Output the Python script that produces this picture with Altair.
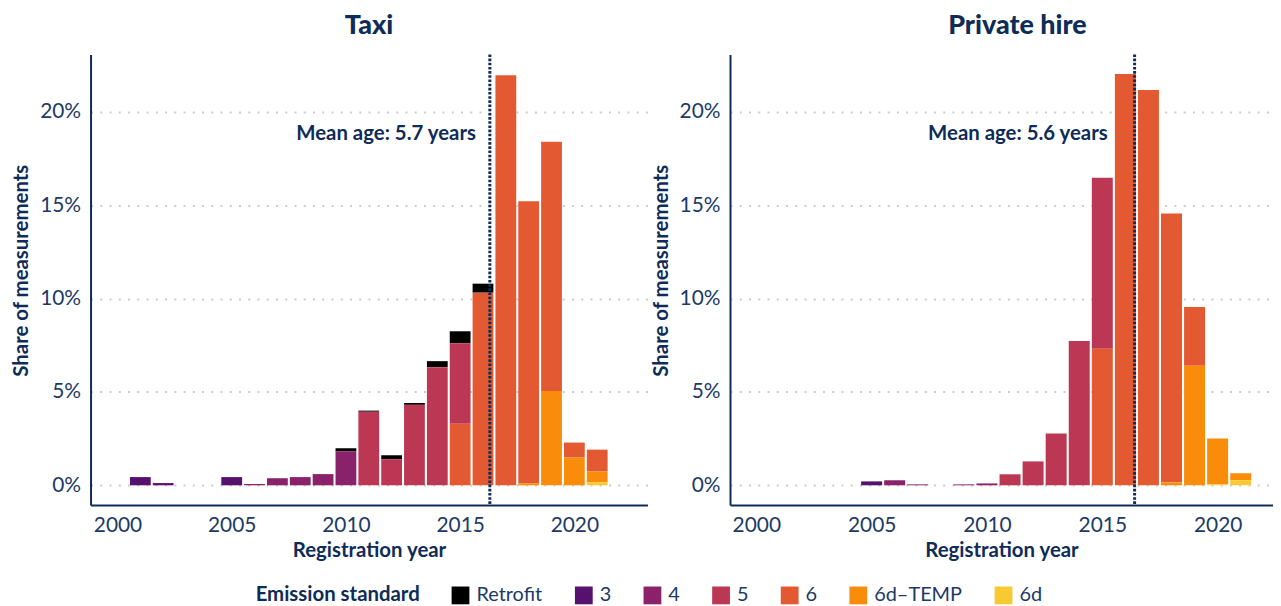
import altair as alt
import pandas as pd

# ---------------- data ----------------
years = list(range(2001, 2022))  # 2001 ... 2021
standards = ["Retrofit", "3", "4", "5", "6", "6d–TEMP", "6d"]
palette = ["#000000", "#56106E", "#89226A", "#BB3754", "#E35932", "#F98C0A", "#F9C932"]
stack_rank = [6, 5, 4, 3, 2, 1, 0]  # 6d at bottom, Retrofit on top

# Taxi (share of measurements, %)
taxi_retrofit = [0, 0, 0, 0, 0, 0, 0, 0, 0, 0.16, 0.06, 0.21, 0.10, 0.32, 0.64, 0.48, 0, 0, 0, 0, 0]
taxi_e3 = [0.44, 0.12, 0, 0, 0.44, 0, 0, 0, 0, 0, 0, 0, 0, 0, 0, 0, 0, 0, 0, 0, 0]
taxi_e4 = [0, 0, 0, 0, 0, 0.07, 0.38, 0.44, 0.60, 1.82, 0, 0, 0, 0, 0, 0, 0, 0, 0, 0, 0]
taxi_e5 = [0, 0, 0, 0, 0, 0, 0, 0, 0, 0, 3.94, 1.40, 4.31, 6.33, 4.31, 0, 0, 0, 0, 0, 0]
taxi_e6 = [0, 0, 0, 0, 0, 0, 0, 0, 0, 0, 0, 0, 0, 0, 3.30, 10.32, 21.97, 15.10, 13.35, 0.80, 1.17]
taxi_e6dt = [0, 0, 0, 0, 0, 0, 0, 0, 0, 0, 0, 0, 0, 0, 0, 0, 0, 0.11, 5.05, 1.49, 0.58]
taxi_e6d = [0, 0, 0, 0, 0, 0, 0, 0, 0, 0, 0, 0, 0, 0, 0, 0, 0, 0, 0, 0, 0.16]

# Private hire (share of measurements, %)
ph_retrofit = [0] * 21
ph_e3 = [0, 0, 0, 0, 0.21, 0, 0, 0, 0, 0, 0, 0, 0, 0, 0, 0, 0, 0, 0, 0, 0]
ph_e4 = [0, 0, 0, 0, 0, 0.27, 0.05, 0, 0.05, 0.10, 0, 0, 0, 0, 0, 0, 0, 0, 0, 0, 0]
ph_e5 = [0, 0, 0, 0, 0, 0, 0, 0, 0, 0, 0.59, 1.28, 2.77, 7.73, 9.17, 0, 0, 0, 0, 0, 0]
ph_e6 = [0, 0, 0, 0, 0, 0, 0, 0, 0, 0, 0, 0, 0, 0, 7.31, 22.03, 21.17, 14.40, 3.15, 0, 0]
ph_e6dt = [0, 0, 0, 0, 0, 0, 0, 0, 0, 0, 0, 0, 0, 0, 0, 0, 0, 0.16, 6.40, 2.46, 0.37]
ph_e6d = [0, 0, 0, 0, 0, 0, 0, 0, 0, 0, 0, 0, 0, 0, 0, 0, 0, 0, 0, 0.05, 0.27]

panels = ["Taxi", "Private hire"]
mean_age = [5.7, 5.6]
reference_year = 2022
x_ticks = [2000, 2005, 2010, 2015, 2020]
y_ticks = [0, 5, 10, 15, 20]

series = {
    "Taxi": [taxi_retrofit, taxi_e3, taxi_e4, taxi_e5, taxi_e6, taxi_e6dt, taxi_e6d],
    "Private hire": [ph_retrofit, ph_e3, ph_e4, ph_e5, ph_e6, ph_e6dt, ph_e6d],
}

rows = []
for panel in panels:
    for std, rank, vals in zip(standards, stack_rank, series[panel]):
        for yr, v in zip(years, vals):
            if v > 0:
                rows.append({"panel": panel, "year": yr, "standard": std, "value": v, "rank": rank})
df = pd.DataFrame(rows)
mean_df = pd.DataFrame({"panel": panels, "age": mean_age})

# ---------------- style ----------------
NAVY = "#0E2C57"
LABEL = "#1C3A66"
FONT = "Lato"

color = alt.Color(
    "standard:N",
    scale=alt.Scale(domain=standards, range=palette),
    legend=alt.Legend(
        title="Emission standard",
        orient="none",
        legendX=166,
        legendY=534,
        direction="horizontal",
        titleOrient="left",
        symbolType="square",
        symbolSize=320,
        symbolStrokeWidth=0,
        symbolOpacity=1,
        labelFontSize=20,
        labelColor=LABEL,
        labelFont=FONT,
        titleFontSize=20.5,
        titleFontWeight="bold",
        titleColor=NAVY,
        titleFont=FONT,
        columnPadding=31,
        titlePadding=30,
        labelOffset=6,
    ),
)

x_axis = alt.Axis(values=x_ticks, format="d", title="Registration year")
y_axis = alt.Axis(values=y_ticks, labelExpr="datum.value + '%'", title="Share of measurements",
                  titleY=217)
y_scale = alt.Scale(domain=[-1.05, 23.08], nice=False, zero=False)


def make_panel(name, xmin, xmax, w, dx, title_dx):
    x_scale = alt.Scale(domain=[xmin, xmax], nice=False, zero=False)
    base = alt.Chart(df).transform_filter(alt.datum.panel == name)
    bars = (
        base.transform_stack(
            stack="value",
            groupby=["year"],
            as_=["y0", "y1"],
            sort=[alt.SortField("rank", order="ascending")],
        )
        .transform_calculate(x0="datum.year - 0.455", x1="datum.year + 0.455")
        .mark_bar(stroke=None)
        .encode(
            x=alt.X("x0:Q", scale=x_scale, axis=x_axis),
            x2="x1:Q",
            y=alt.Y("y0:Q", scale=y_scale, axis=y_axis),
            y2="y1:Q",
            color=color,
        )
    )
    mbase = (
        alt.Chart(mean_df)
        .transform_filter(alt.datum.panel == name)
        .transform_calculate(
            myear=f"{reference_year} - datum.age",
            label="'Mean age: ' + format(datum.age, '.1f') + ' years'",
        )
    )
    rule = mbase.mark_rule(color=NAVY, strokeWidth=3, strokeDash=[2.6, 1.6]).encode(
        x=alt.X("myear:Q", scale=x_scale, axis=x_axis)
    )
    text = mbase.mark_text(
        align="right", baseline="middle", dx=dx, font=FONT, fontSize=20.5,
        fontWeight="bold", color=NAVY,
    ).encode(
        x=alt.X("myear:Q", scale=x_scale, axis=x_axis),
        y=alt.YDatum(18.8, scale=y_scale, axis=y_axis),
        text="label:N",
    )
    return alt.layer(bars, rule, text).properties(
        width=w, height=453, title=alt.TitleParams(name, dx=title_dx)
    )


left = make_panel("Taxi", 1998.82, 2023.2, 560, -14, 0)
right = make_panel("Private hire", 1998.86, 2022.4, 546, -27, 16)

chart = (
    alt.hconcat(left, right, spacing=3)
    .properties(padding={"left": 3, "top": 2, "right": 0, "bottom": 0})
    .configure(font=FONT)
    .configure_view(stroke=None)
    .configure_axis(
        domainColor=NAVY,
        domainWidth=2,
        ticks=False,
        grid=False,
        labelFont=FONT,
        labelFontSize=21,
        labelColor=LABEL,
        labelPadding=10,
        titleFont=FONT,
        titleFontSize=20.5,
        titleFontWeight="bold",
        titleColor=NAVY,
    )
    .configure_axisY(grid=True, gridColor="#cccccc", gridDash=[2, 7.3], gridWidth=2, titlePadding=8)
    .configure_axisX(titlePadding=5)
    .configure_title(font=FONT, fontSize=27, fontWeight=900, color=NAVY, offset=13, anchor="middle")
)

chart.save("out.html", embed_options={"renderer": "svg", "actions": False})
